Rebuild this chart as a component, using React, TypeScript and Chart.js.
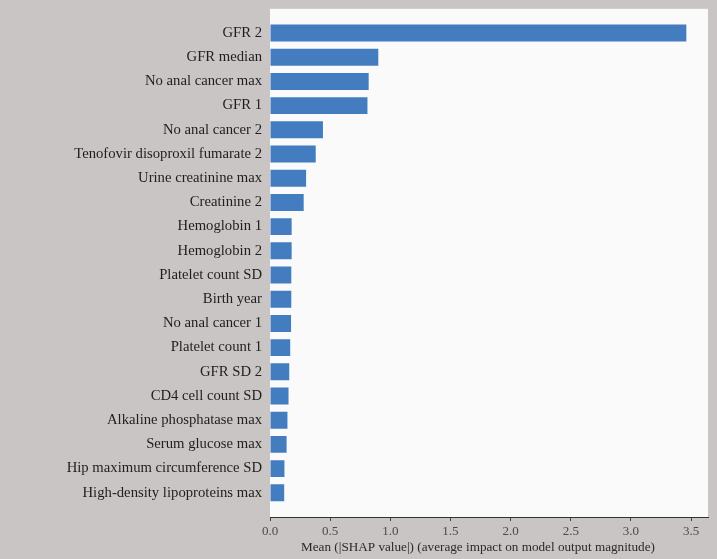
import React, { useEffect, useRef } from "react";
import { Chart, registerables } from "chart.js";

Chart.register(...registerables);

const categories: string[] = [
  "GFR 2",
  "GFR median",
  "No anal cancer max",
  "GFR 1",
  "No anal cancer 2",
  "Tenofovir disoproxil fumarate 2",
  "Urine creatinine max",
  "Creatinine 2",
  "Hemoglobin 1",
  "Hemoglobin 2",
  "Platelet count SD",
  "Birth year",
  "No anal cancer 1",
  "Platelet count 1",
  "GFR SD 2",
  "CD4 cell count SD",
  "Alkaline phosphatase max",
  "Serum glucose max",
  "Hip maximum circumference SD",
  "High-density lipoproteins max",
];

const meanShap: number[] = [
  3.46, 0.9, 0.82, 0.81, 0.44, 0.38, 0.3, 0.28, 0.18, 0.18,
  0.177, 0.177, 0.175, 0.168, 0.16, 0.154, 0.145, 0.138, 0.12, 0.118,
];

const xTicks: number[] = [0, 0.5, 1, 1.5, 2, 2.5, 3, 3.5];
const xTitle = "Mean (|SHAP value|) (average impact on model output magnitude)";

const FONT = "'Liberation Serif', 'Times New Roman', serif";

export default function App() {
  const ref = useRef<HTMLCanvasElement | null>(null);

  useEffect(() => {
    document.body.style.margin = "0";
    const canvas = ref.current;
    if (!canvas) return;

    const labels = ["", ...categories, ""];
    const data = [null, ...meanShap, null];

    const plotBg = {
      id: "plotBg",
      beforeDraw(chart: any) {
        const { ctx, chartArea } = chart;
        ctx.save();
        ctx.fillStyle = "#fafafa";
        ctx.fillRect(chartArea.left, chartArea.top, chartArea.right - chartArea.left, chartArea.bottom - chartArea.top);
        ctx.restore();
      },
    };

    const xTitlePlugin = {
      id: "xTitlePlugin",
      afterDraw(chart: any) {
        const { ctx, chartArea } = chart;
        ctx.save();
        ctx.fillStyle = "#2a2a2a";
        ctx.font = `13.2px ${FONT}`;
        ctx.textAlign = "center";
        ctx.textBaseline = "middle";
        ctx.fillText(xTitle, (chartArea.left + chartArea.right) / 2 - 11, 548);
        ctx.restore();
      },
    };

    const chart = new Chart(canvas, {
      type: "bar",
      data: {
        labels,
        datasets: [
          {
            data: data as any,
            backgroundColor: "#437dc0",
            borderWidth: 0,
            barPercentage: 0.7,
            categoryPercentage: 1,
          },
        ],
      },
      options: {
        indexAxis: "y",
        animation: false,
        responsive: false,
        maintainAspectRatio: false,
        layout: { padding: { top: 0, right: 9, left: 0, bottom: 0 } },
        plugins: {
          legend: { display: false },
          tooltip: { enabled: false },
        },
        scales: {
          y: {
            type: "category",
            offset: false,
            grid: { display: false },
            border: { display: false },
            ticks: {
              autoSkip: false,
              color: "#1e1e1e",
              padding: 0,
              font: { family: FONT, size: 14.7 },
            },
            afterFit(scale: any) {
              scale.width = 270;
            },
          },
          x: {
            type: "linear",
            min: 0,
            max: 3.64,
            grid: {
              drawOnChartArea: false,
              drawTicks: true,
              tickLength: 4,
              color: "#444",
            },
            border: { display: true, color: "#333", width: 1 },
            afterBuildTicks(scale: any) {
              scale.ticks = xTicks.map((v) => ({ value: v }));
            },
            ticks: {
              color: "#4a4a4a",
              padding: 3,
              maxRotation: 0,
              font: { family: FONT, size: 13 },
              callback: (v: any) => Number(v).toFixed(1),
            },
            afterFit(scale: any) {
              scale.height = 42;
            },
          },
        },
      },
      plugins: [plotBg, xTitlePlugin],
    });

    return () => chart.destroy();
  }, []);

  return (
    <div style={{ position: "fixed", left: 0, top: 0, width: 717, height: 559, background: "#c9c5c4" }}>
      <canvas ref={ref} width={717} height={559} style={{ display: "block" }} />
    </div>
  );
}
